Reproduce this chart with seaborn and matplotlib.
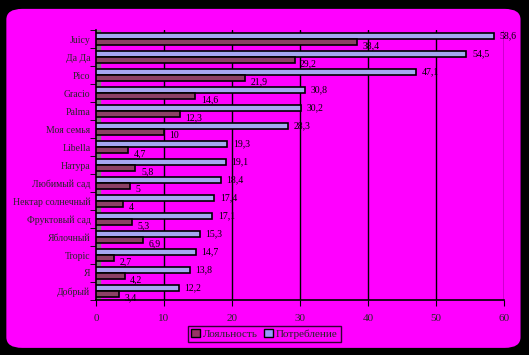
import numpy as np
import pandas as pd
import matplotlib.pyplot as plt
import seaborn as sns
from matplotlib.patches import FancyBboxPatch, Patch

brands = ['Juicy', 'Да Да', 'Pico', 'Gracio', 'Palma', 'Моя семья', 'Libella',
          'Натура', 'Любимый сад', 'Нектар солнечный', 'Фруктовый сад',
          'Яблочный', 'Tropic', 'Я', 'Добрый']
consumption = [58.6, 54.5, 47.1, 30.8, 30.2, 28.3, 19.3, 19.1, 18.4, 17.4, 17.1, 15.3, 14.7, 13.8, 12.2]
loyalty = [38.4, 29.2, 21.9, 14.6, 12.3, 10, 4.7, 5.8, 5, 4, 5.3, 6.9, 2.7, 4.2, 3.4]

df = pd.DataFrame({
    'Brand': brands * 2,
    'Value': consumption + loyalty,
    'Series': ['Потребление'] * len(brands) + ['Лояльность'] * len(brands),
})

colors = {'Потребление': '#9999FF', 'Лояльность': '#993366'}

sns.set_style('white')
plt.rcParams['font.family'] = ['Liberation Serif', 'DejaVu Serif']

fig = plt.figure(figsize=(5.29, 3.55), dpi=100)
fig.patch.set_facecolor('black')
bg = FancyBboxPatch((0.012, 0.02), 0.972, 0.955, boxstyle='round,pad=0,rounding_size=0.03',
                    transform=fig.transFigure, facecolor='#FF00FF', edgecolor='none', zorder=-10)
fig.patches.append(bg)

ax = fig.add_axes([0.1815, 0.155, 0.771, 0.76])
ax.set_facecolor('none')

sns.barplot(data=df, y='Brand', x='Value', hue='Series',
            hue_order=['Потребление', 'Лояльность'], order=brands,
            palette=colors, orient='h', width=0.7, gap=0.0,
            edgecolor='black', linewidth=1.2, ax=ax, legend=False, zorder=3)

# value labels, loyalty ones sit a little lower like in the original
for i, cont in enumerate(ax.containers):
    anns = ax.bar_label(cont, labels=[f'{v:g}'.replace('.', ',') for v in cont.datavalues],
                        padding=4, fontsize=7, color='black')
    if i == 1:
        for a in anns:
            a.xyann = (4, -2.5)

ax.set_xlim(0, 60)
ax.set_xticks(range(0, 61, 10))
ax.grid(axis='x', color='black', linewidth=1, zorder=1)
ax.axvspan(0, 0.6, color='#808080', zorder=2)
for s in ['top', 'right']:
    ax.spines[s].set_visible(False)
for s in ['left', 'bottom']:
    ax.spines[s].set_color('black')
    ax.spines[s].set_linewidth(1.2)
ax.set_yticks(np.arange(len(brands) + 1) - 0.5, minor=True)
ax.tick_params(axis='y', which='major', length=0, labelsize=7, pad=4)
ax.tick_params(axis='y', which='minor', length=4, color='black', direction='out', left=True)
ax.tick_params(axis='x', length=4, color='black', direction='out', bottom=True, labelsize=8, pad=6)
ax.set_xlabel('')
ax.set_ylabel('')

handles = [Patch(facecolor=colors['Лояльность'], edgecolor='black', label='Лояльность'),
           Patch(facecolor=colors['Потребление'], edgecolor='black', label='Потребление')]
leg = fig.legend(handles=handles, loc='lower center', bbox_to_anchor=(0.5, 0.02), ncol=2,
                 frameon=True, fancybox=False, fontsize=8, handlelength=0.8, handleheight=0.8,
                 handletextpad=0.3, columnspacing=0.5, borderpad=0.3)
leg.get_frame().set_facecolor('#FF00FF')
leg.get_frame().set_edgecolor('black')
leg.get_frame().set_linewidth(1)

fig.savefig('out.png', dpi=100, facecolor=fig.get_facecolor())
